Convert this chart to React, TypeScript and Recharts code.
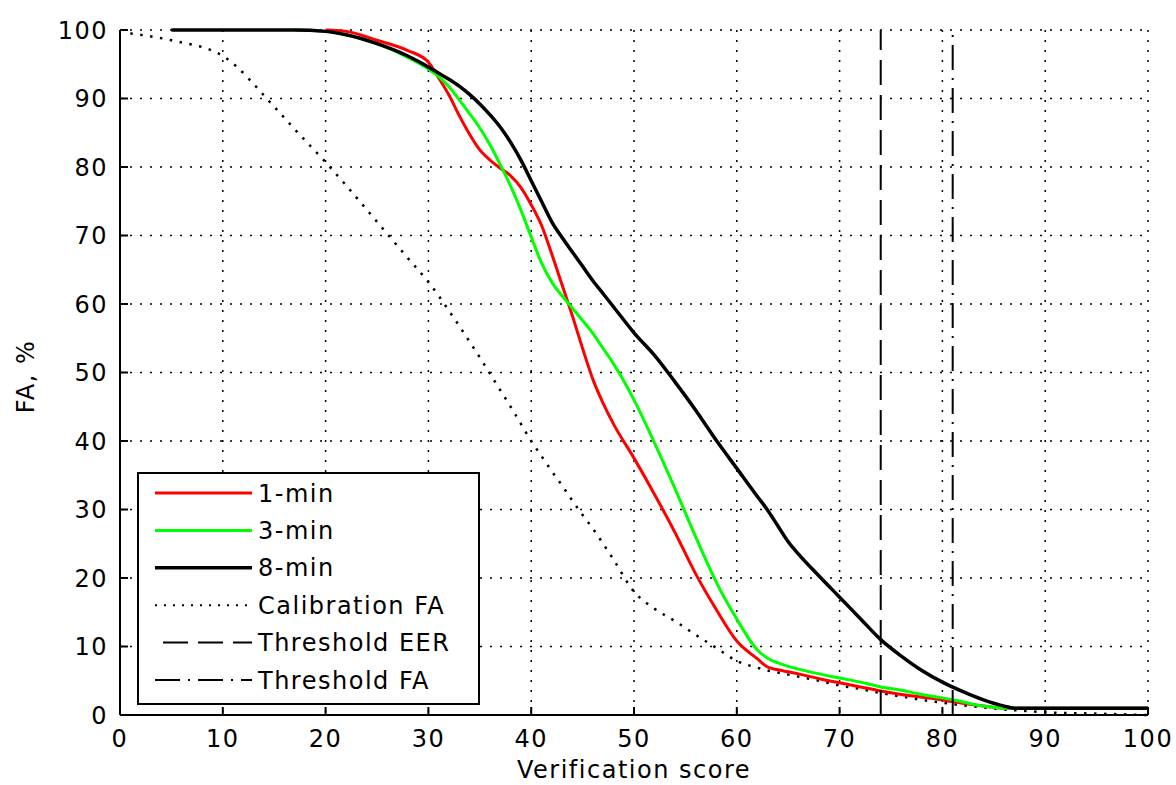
import { LineChart, Line, XAxis, YAxis, CartesianGrid, ReferenceLine, Legend } from "recharts";

// verification score grid (x)
const scores = [
  1, 5, 10, 15, 17, 20, 22, 25, 28, 30,
  31, 32, 33, 34, 35, 36, 37, 38, 39, 40,
  41, 42, 43, 44, 45, 46, 47, 48, 50, 52,
  54, 56, 58, 60, 62, 63, 64, 65, 66, 68,
  70, 72, 74, 76, 78, 80, 82, 84, 86, 87,
  88, 90, 95, 100,
];

const calibrationFA = [
  99.5, 98.5, 96.2, 88.8, 85.5, 80.7, 77.3, 72, 66.7, 63.2,
  61.2, 59, 56.8, 54.5, 52.2, 49.8, 47.4, 45, 42.5, 40,
  37.8, 35.6, 33.5, 31.3, 29.2, 27.2, 25, 22.7, 18, 15.5,
  13.7, 11.7, 9.8, 7.9, 6.9, 6.5, 6.2, 5.9, 5.6, 5,
  4.3, 3.8, 3.2, 2.7, 2.2, 1.8, 1.4, 1.1, 0.8, 0.7,
  0.6, 0.4, 0.2, 0,
];

const fa1min = [
  null, null, null, null, null, 100, 99.8, 98.5, 97, 95.3,
  93, 90.5, 87.5, 84.8, 82.5, 81, 79.8, 78.7, 77, 74.5,
  71.5, 67.3, 62.8, 58.3, 53.5, 49, 45.5, 42.5, 37.5, 32.2,
  26.6, 20.6, 15.4, 10.8, 8.2, 7, 6.6, 6.3, 6, 5.3,
  4.7, 4.1, 3.5, 3, 2.6, 2.2, 1.7, 1.3, 1, 1,
  1, 1, 1, 1,
];

const fa3min = [
  null, null, null, null, 100, 99.8, 99.3, 98, 96, 94.3,
  93.2, 91.7, 89.8, 87.8, 85.7, 83.2, 80.3, 77.2, 73.7, 69.8,
  66, 63.2, 61.2, 59.4, 57.6, 55.7, 53.5, 51.3, 46, 39.7,
  33, 26, 19.4, 14, 9.5, 8.3, 7.6, 7.1, 6.7, 6,
  5.4, 4.8, 4.1, 3.6, 3, 2.5, 1.9, 1.3, 1, 1,
  1, 1, 1, 1,
];

const fa8min = [
  null, 100, 100, 100, 100, 99.8, 99.3, 98, 96.2, 94.6,
  93.7, 92.8, 91.8, 90.6, 89.2, 87.6, 85.8, 83.6, 81, 78,
  75, 72, 69.7, 67.6, 65.5, 63.4, 61.5, 59.6, 55.8, 52.5,
  48.6, 44.5, 40.1, 36, 31.9, 29.9, 27.6, 25.3, 23.5, 20.3,
  17.2, 14.1, 11, 8.6, 6.5, 4.8, 3.4, 2.2, 1.3, 1,
  1, 1, 1, 1,
];

const xTicks = [0, 10, 20, 30, 40, 50, 60, 70, 80, 90, 100];
const yTicks = [0, 10, 20, 30, 40, 50, 60, 70, 80, 90, 100];

const thresholdEER = 74;
const thresholdFA = 81;

const data = scores.map((score, i) => ({
  score,
  calib: calibrationFA[i],
  m1: fa1min[i],
  m3: fa3min[i],
  m8: fa8min[i],
}));

const font = { fontFamily: "DejaVu Sans", fontSize: 24, letterSpacing: 1.5, fill: "#000" };

const legendItems = [
  { label: "1-min", stroke: "#ff0000", width: 3, dash: undefined, x1: 18 },
  { label: "3-min", stroke: "#00ff00", width: 3, dash: undefined, x1: 18 },
  { label: "8-min", stroke: "#000000", width: 3.5, dash: undefined, x1: 18 },
  { label: "Calibration FA", stroke: "#000000", width: 2, dash: "2 7", x1: 18 },
  { label: "Threshold EER", stroke: "#000000", width: 2, dash: "25 10", x1: 26 },
  { label: "Threshold FA", stroke: "#000000", width: 2, dash: "25 8 2 8", x1: 18 },
];

function LegendBox() {
  return (
    <svg width={343} height={233} style={{ display: "block" }}>
      <rect x={1} y={1} width={341} height={231} fill="#fff" stroke="#000" strokeWidth={2} />
      {legendItems.map((it, i) => {
        const cy = 21 + i * 37.4;
        return (
          <g key={it.label}>
            <line x1={it.x1} x2={115} y1={cy} y2={cy} stroke={it.stroke}
                  strokeWidth={it.width} strokeDasharray={it.dash} />
            <text x={121} y={cy} dy="0.36em" {...font}>{it.label}</text>
          </g>
        );
      })}
    </svg>
  );
}

export default function App() {
  return (
    <div style={{ position: "absolute", left: 0, top: 0, background: "#fff" }}>
      <LineChart width={1176} height={785} data={data}
                 margin={{ top: 30, right: 28, left: 0, bottom: 0 }}>
        <CartesianGrid stroke="#000" strokeDasharray="2 8" strokeWidth={1.5} />
        <XAxis dataKey="score" type="number" domain={[0, 100]} ticks={xTicks}
               interval={0} height={70} tickSize={-8} tickMargin={23}
               axisLine={{ stroke: "#000", strokeWidth: 2 }}
               tickLine={{ stroke: "#000", strokeWidth: 2 }}
               tick={font}
               label={{
                 content: (p: any) => {
                   const vb = p.viewBox;
                   return (
                     <text x={vb.x + vb.width / 2} y={769} textAnchor="middle"
                           dy="0.36em" {...font}>Verification score</text>
                   );
                 },
               }} />
        <YAxis type="number" domain={[0, 100]} ticks={yTicks} interval={0}
               width={120} tickSize={-8} tickMargin={20}
               axisLine={{ stroke: "#000", strokeWidth: 2 }}
               tickLine={{ stroke: "#000", strokeWidth: 2 }}
               tick={font}
               label={{
                 content: (p: any) => {
                   const vb = p.viewBox;
                   const cy = vb.y + vb.height / 2 + 4;
                   return (
                     <text x={25} y={cy} textAnchor="middle" dy="0.36em"
                           transform={`rotate(-90 25 ${cy})`} {...font}>FA, %</text>
                   );
                 },
               }} />
        <Line dataKey="calib" type="monotone" stroke="#000" strokeWidth={2.5}
              strokeDasharray="2.5 7.5" dot={false} activeDot={false} isAnimationActive={false} />
        <Line dataKey="m1" type="monotone" stroke="#ff0000" strokeWidth={3}
              dot={false} activeDot={false} isAnimationActive={false} />
        <Line dataKey="m3" type="monotone" stroke="#00ff00" strokeWidth={3}
              dot={false} activeDot={false} isAnimationActive={false} />
        <Line dataKey="m8" type="monotone" stroke="#000" strokeWidth={3.5}
              dot={false} activeDot={false} isAnimationActive={false} />
        <ReferenceLine x={thresholdEER} stroke="#000" strokeWidth={2} strokeDasharray="25 10" />
        <ReferenceLine x={thresholdFA} stroke="#000" strokeWidth={2} strokeDasharray="25 8 2 8" />
        <Legend layout="vertical" align="center" verticalAlign="middle"
                wrapperStyle={{ left: 137, top: 472, width: 343, height: 233 }}
                content={() => <LegendBox />} />
      </LineChart>
    </div>
  );
}
